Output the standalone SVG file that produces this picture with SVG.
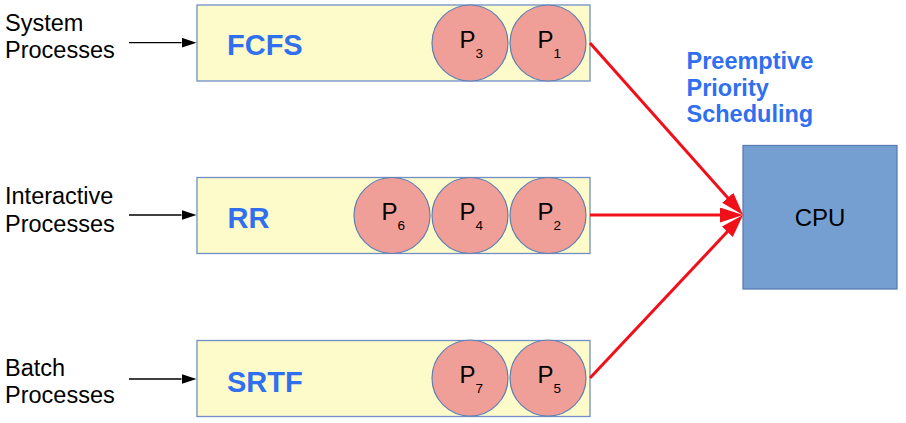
<svg xmlns="http://www.w3.org/2000/svg" width="906" height="423" viewBox="0 0 906 423">
<style>
.lbl{font-family:"Liberation Sans",Arial,sans-serif;font-size:23.5px;fill:#000}
.q{fill:#fdfbc9;stroke:#6f8fc6;stroke-width:1.3}
.qt{font-family:"Liberation Sans",Arial,sans-serif;font-size:29px;font-weight:bold;fill:#2f6ff0}
.pc{fill:#f09e98;stroke:#5f7fb3;stroke-width:1.2}
.pt{font-family:"Liberation Sans",Arial,sans-serif;font-size:24px;fill:#000}
.sub{font-size:13.5px}
.red{stroke:#f0101a;stroke-width:3;fill:none}
.blk{stroke:#000;stroke-width:1.3;fill:none}
.title{font-family:"Liberation Sans",Arial,sans-serif;font-size:23.5px;font-weight:bold;fill:#2f6ff0}
</style>
<defs>
<marker id="ar" markerUnits="userSpaceOnUse" markerWidth="24" markerHeight="16" refX="13" refY="7.5" orient="auto">
<path d="M0,0 L23,7.5 L0,15 z" fill="#f0101a"/>
</marker>
<marker id="ab" markerUnits="userSpaceOnUse" markerWidth="16" markerHeight="12" refX="0" refY="5" orient="auto">
<path d="M0,0 L15,5 L0,10 z" fill="#000"/>
</marker>
</defs>

<g id="label-system">
<text class="lbl" x="5" y="30.5">System</text>
<text class="lbl" x="5" y="58">Processes</text>
</g>
<g id="label-interactive">
<text class="lbl" x="5" y="204">Interactive</text>
<text class="lbl" x="5" y="231.5">Processes</text>
</g>
<g id="label-batch">
<text class="lbl" x="5" y="375.5">Batch</text>
<text class="lbl" x="5" y="402.5">Processes</text>
</g>

<g id="queue-fcfs">
<rect class="q" x="197" y="5" width="393" height="76"/>
<text class="qt" x="227" y="55">FCFS</text>
</g>
<g id="queue-rr">
<rect class="q" x="197" y="177.5" width="393" height="76"/>
<text class="qt" x="227.5" y="228">RR</text>
</g>
<g id="queue-srtf">
<rect class="q" x="197" y="340.5" width="393" height="76"/>
<text class="qt" x="227" y="392">SRTF</text>
</g>

<g id="p3"><circle class="pc" cx="470" cy="43" r="38"/><text class="pt" x="459.5" y="48">P<tspan class="sub" dy="10">3</tspan></text></g>
<g id="p1"><circle class="pc" cx="548" cy="43" r="38"/><text class="pt" x="537.5" y="48">P<tspan class="sub" dy="10">1</tspan></text></g>
<g id="p6"><circle class="pc" cx="392" cy="215.5" r="38"/><text class="pt" x="381.5" y="220">P<tspan class="sub" dy="10">6</tspan></text></g>
<g id="p4"><circle class="pc" cx="470" cy="215.5" r="38"/><text class="pt" x="459.5" y="220">P<tspan class="sub" dy="10">4</tspan></text></g>
<g id="p2"><circle class="pc" cx="548" cy="215.5" r="38"/><text class="pt" x="537.5" y="220">P<tspan class="sub" dy="10">2</tspan></text></g>
<g id="p7"><circle class="pc" cx="470" cy="378" r="38"/><text class="pt" x="459.5" y="383">P<tspan class="sub" dy="10">7</tspan></text></g>
<g id="p5"><circle class="pc" cx="548" cy="378" r="38"/><text class="pt" x="537.5" y="383">P<tspan class="sub" dy="10">5</tspan></text></g>

<g id="cpu">
<rect x="743" y="145.5" width="154" height="143.5" fill="#769fd1" stroke="#5b7db3" stroke-width="1.3"/>
<text x="820" y="226" text-anchor="middle" font-family="Liberation Sans, Arial, sans-serif" font-size="24" fill="#000">CPU</text>
</g>

<g id="title">
<text class="title" x="686.5" y="69">Preemptive</text>
<text class="title" x="686.5" y="95.5">Priority</text>
<text class="title" x="686.5" y="122">Scheduling</text>
</g>

<g id="connectors">
<line class="blk" x1="129" y1="42.7" x2="181.5" y2="42.7" marker-end="url(#ab)"/>
<line class="blk" x1="129" y1="215" x2="181.5" y2="215" marker-end="url(#ab)"/>
<line class="blk" x1="129" y1="379" x2="181.5" y2="379" marker-end="url(#ab)"/>
<line class="red" x1="590" y1="43" x2="736.4" y2="207.5" marker-end="url(#ar)"/>
<line class="red" x1="590" y1="215" x2="733" y2="215" marker-end="url(#ar)"/>
<line class="red" x1="590" y1="378" x2="736.2" y2="222.3" marker-end="url(#ar)"/>
</g>
</svg>
